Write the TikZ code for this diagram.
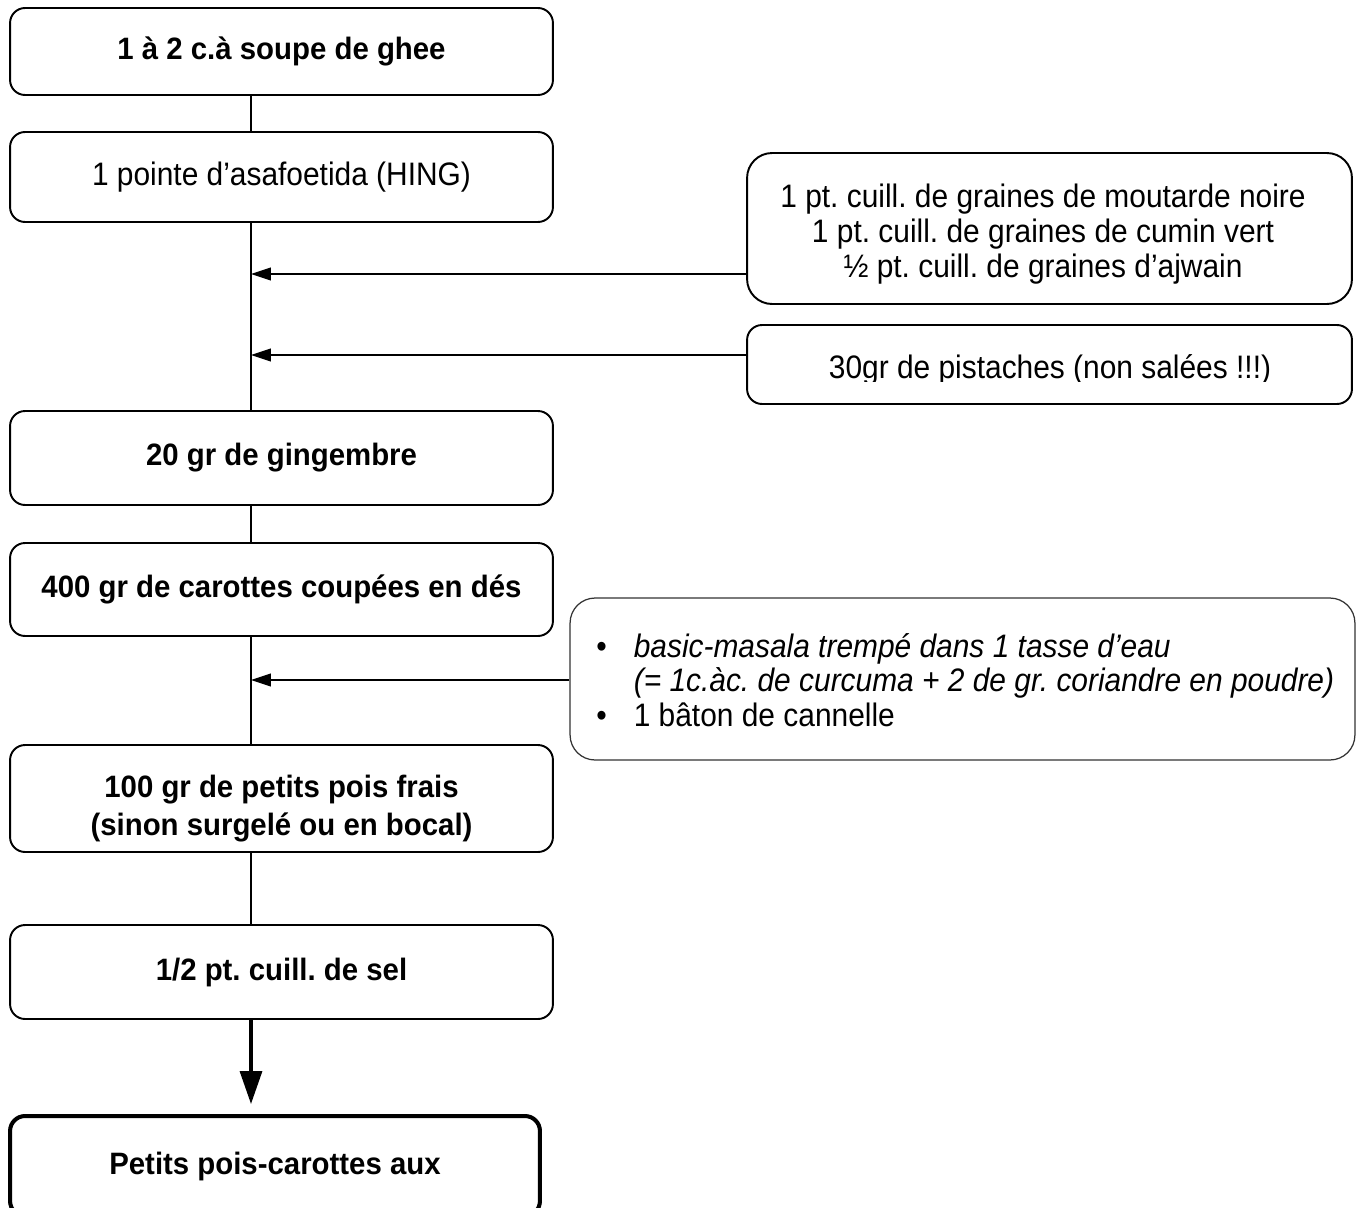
\documentclass[tikz,border=0pt]{standalone}
\usepackage{fontspec}
\setmainfont{Liberation Sans}[FakeStretch=0.92, BoldFeatures={FakeStretch=0.95}]
\usetikzlibrary{arrows.meta}
\frenchspacing

\tikzset{
  stepbox/.style={draw, rounded corners=0.3cm, line width=1.1pt, minimum width=10.86cm,
    align=center, inner sep=0pt, font=\fontsize{17.6}{21.6}\selectfont\bfseries},
  sidebox/.style={draw, rounded corners=0.5cm, line width=1.1pt, minimum width=12.1cm,
    align=center, inner sep=0pt, font=\fontsize{18.5}{19.9}\selectfont},
  link/.style={line width=1.1pt},
  sidearrow/.style={line width=0.6pt, -{Triangle[length=0.4cm,width=0.26cm]}},
  endarrow/.style={line width=1.9pt, -{Triangle[length=0.66cm,width=0.44cm]}, shorten >=0.2cm}
}

\begin{document}
\begin{tikzpicture}[x=0.02cm, y=-0.02cm]
  \useasboundingbox (0,0) rectangle (1362,1207);
  % main column
  \coordinate (spine) at (251,0);
  \node[stepbox, minimum height=1.74cm] (ghee) at (281.5,51.5) {1 à 2 c.à soupe de ghee};
  \node[stepbox, minimum height=1.8cm, font=\fontsize{18.5}{20}\selectfont] (hing) at (281.5,177) {1 pointe d’asafoetida (HING)};
  \node[stepbox, minimum height=1.88cm] (gingembre) at (281.5,458) {20 gr de gingembre};
  \node[stepbox, minimum height=1.86cm] (carottes) at (281.5,589.5) {400 gr de carottes coupées en dés};
  \node[stepbox, minimum height=2.14cm] (pois) at (281.5,798.5) {};
  \node[stepbox, draw=none] (poistext) at (281.5,809) {100 gr de petits pois frais\\(sinon surgelé ou en bocal)};
  \node[stepbox, minimum height=1.88cm] (sel) at (281.5,972) {1/2 pt. cuill. de sel};
  \node[stepbox, line width=2.3pt, minimum width=10.6cm, minimum height=2cm] (plat) at (275,1166) {Petits pois-carottes aux};

  % side ingredients
  \node[sidebox, minimum height=3.02cm] (graines) at (1049.5,228.5) {};
  \node[sidebox, draw=none] (grainestext) at (1043,234) {%
    1 pt. cuill. de graines de moutarde noire\\
    1 pt. cuill. de graines de cumin vert\\
    ½ pt. cuill. de graines d’ajwain};
  \node[sidebox, rounded corners=0.3cm, minimum height=1.58cm] (pistachebox) at (1049.5,364.5) {};
  \begin{scope}
    \clip (747,325) rectangle (1352,381);
    \node[font=\fontsize{18.5}{20}\selectfont, inner sep=0pt, anchor=base] (pistaches) at (1050,378) {30gr de pistaches (non salées !!!)};
  \end{scope}
  \node[draw=black!80, line width=0.7pt, rounded corners=0.5cm, minimum width=15.7cm, minimum height=3.24cm] (masalabox) at (962.5,679) {};
  \node[anchor=west, inner sep=0pt, font=\fontsize{18.5}{19.6}\selectfont] (masala) at (596,685) {%
    \begin{tabular}{@{}l@{\hspace{0.54cm}}l@{}}
      • & \textit{basic-masala trempé dans 1 tasse d’eau}\\
        & \textit{(= 1c.àc. de curcuma + 2 de gr. coriandre en poudre)}\\
      • & 1 bâton de cannelle
    \end{tabular}};

  % connectors
  \draw[link] (ghee.south -| spine) -- (hing.north -| spine);
  \draw[link] (hing.south -| spine) -- (gingembre.north -| spine);
  \draw[link] (gingembre.south -| spine) -- (carottes.north -| spine);
  \draw[link] (carottes.south -| spine) -- (pois.north -| spine);
  \draw[link] (pois.south -| spine) -- (sel.north -| spine);
  \draw[endarrow] (sel.south -| spine) -- (plat.north -| spine);
  \coordinate (j1) at (251,274);
  \coordinate (j2) at (251,355);
  \coordinate (j3) at (251,680);
  \draw[sidearrow] (graines.west |- j1) -- (j1);
  \draw[sidearrow] (pistachebox.west |- j2) -- (j2);
  \draw[sidearrow] (masalabox.west |- j3) -- (j3);
\end{tikzpicture}
\end{document}
